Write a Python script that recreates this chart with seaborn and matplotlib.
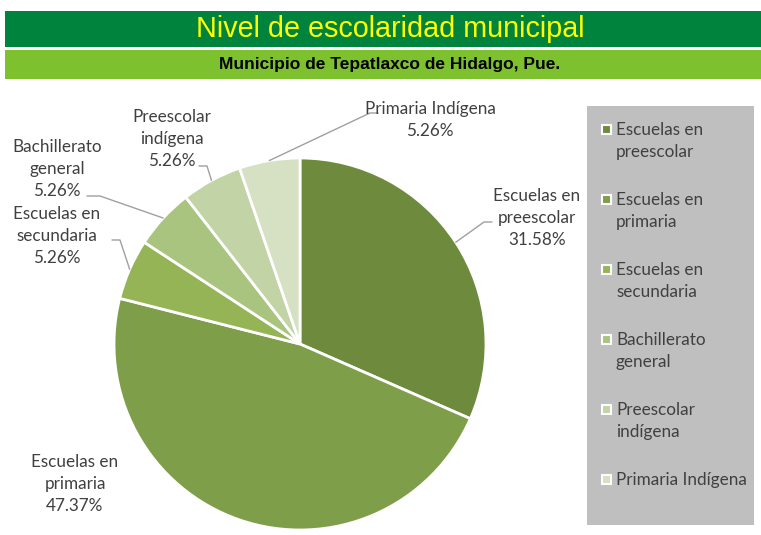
import numpy as np
import matplotlib
matplotlib.use("Agg")
import matplotlib.pyplot as plt
from matplotlib.patches import Rectangle
import seaborn as sns

# data
categories = ["Escuelas en preescolar", "Escuelas en primaria", "Escuelas en secundaria",
              "Bachillerato general", "Preescolar indígena", "Primaria Indígena"]
pie_labels = ["Escuelas en\npreescolar", "Escuelas en\nprimaria", "Escuelas en\nsecundaria",
              "Bachillerato\ngeneral", "Preescolar\nindígena", "Primaria Indígena"]
legend_labels = ["Escuelas en\npreescolar", "Escuelas en\nprimaria", "Escuelas en\nsecundaria",
                 "Bachillerato\ngeneral", "Preescolar\nindígena", "Primaria Indígena"]
schools = [6, 9, 1, 1, 1, 1]
title = "Nivel de escolaridad municipal"
subtitle = "Municipio de Tepatlaxco de Hidalgo, Pue."

colors = ["#6E8B3D", "#7F9E4A", "#95B456", "#A9C47E", "#C2D3A5", "#D6E0C3"]
TXT = "#404040"

sns.set_theme(style="white")
plt.rcParams['font.family'] = ['Lato', 'DejaVu Sans']

W, H = 761, 535
fig = plt.figure(figsize=(W / 100, H / 100), dpi=100)
fig.patch.set_facecolor("white")


def fx(px):
    return px / W


def fy(py):
    return 1 - py / H


# header bars
fig.patches.append(Rectangle((fx(5), fy(47)), fx(756), 36 / H, transform=fig.transFigure,
                             facecolor="#00843D", edgecolor="none"))
fig.patches.append(Rectangle((fx(5), fy(79)), fx(756), 29 / H, transform=fig.transFigure,
                             facecolor="#7DC12F", edgecolor="none"))
fig.text(fx(390), fy(29), title, ha="center", va="center", color="#FFFF00", fontsize=20.7,
         family=['Liberation Sans Narrow', 'Liberation Sans'])
fig.text(fx(390), fy(64), subtitle, ha="center", va="center", color="black", fontsize=12.5,
         fontweight="bold", family=['Liberation Sans Narrow', 'Liberation Sans'])

# pie area (1 data unit = R pixels)
cx, cy, R = 300, 344, 186
x0, y0, x1, y1 = 7, 85, 761, 535
ax = fig.add_axes([fx(x0), fy(y1), (x1 - x0) / W, (y1 - y0) / H])
ax.set_facecolor("#D9D9D9")
wedges, _ = ax.pie(schools, colors=colors, startangle=90, counterclock=False, radius=1,
                   wedgeprops=dict(edgecolor="white", linewidth=2))
ax.set_xlim((x0 - cx) / R, (x1 - cx) / R)
ax.set_ylim((cy - y1) / R, (cy - y0) / R)
ax.set_aspect("equal")
for s in ax.spines.values():
    s.set_visible(False)


def to_data(px, py):
    return (px - cx) / R, (cy - py) / R


# label layout (pixels): text centre, leader elbow and end
label_pos = [(537, 218), (75, 484), (57, 236), (57, 169), (172, 139), (430, 120)]
leaders = [[(484, 222), (492, 222)], None, [(120, 240), (112, 240)],
           [(100, 196), (87, 196)], [(207, 166), (199, 166)], [(370, 113), (378, 113)]]

FS = 12.3
LS = 1.48
total = sum(schools)
for i, w in enumerate(wedges):
    pct = 100 * schools[i] / total
    tx, ty = to_data(*label_pos[i])
    ax.text(tx, ty, f"{pie_labels[i]}\n{pct:.2f}%", ha="center", va="center",
            fontsize=FS, color=TXT, linespacing=LS)
    if leaders[i] is not None:
        mid = np.deg2rad((w.theta1 + w.theta2) / 2)
        pts = [(np.cos(mid), np.sin(mid))] + [to_data(*p) for p in leaders[i]]
        xs, ys = zip(*pts)
        ax.plot(xs, ys, color="#A0A0A0", lw=1)

# legend box
lx0, ly0, lx1, ly1 = 587, 106, 754, 525
lax = fig.add_axes([fx(lx0), fy(ly1), (lx1 - lx0) / W, (ly1 - ly0) / H])
lax.set_facecolor("#BFBFBF")
lax.set_xlim(0, lx1 - lx0)
lax.set_ylim(ly1 - ly0, 0)
lax.set_xticks([])
lax.set_yticks([])
for s in lax.spines.values():
    s.set_visible(False)
for i, lab in enumerate(legend_labels):
    yy = 129 - ly0 + 70 * i
    lax.add_patch(Rectangle((15, yy - 4.5), 9, 9, facecolor=colors[i], edgecolor="white", lw=1.5))
    lax.text(29, yy - 7, lab, ha="left", va="top", fontsize=FS, color=TXT, linespacing=LS)

fig.savefig("out.png", dpi=100)
